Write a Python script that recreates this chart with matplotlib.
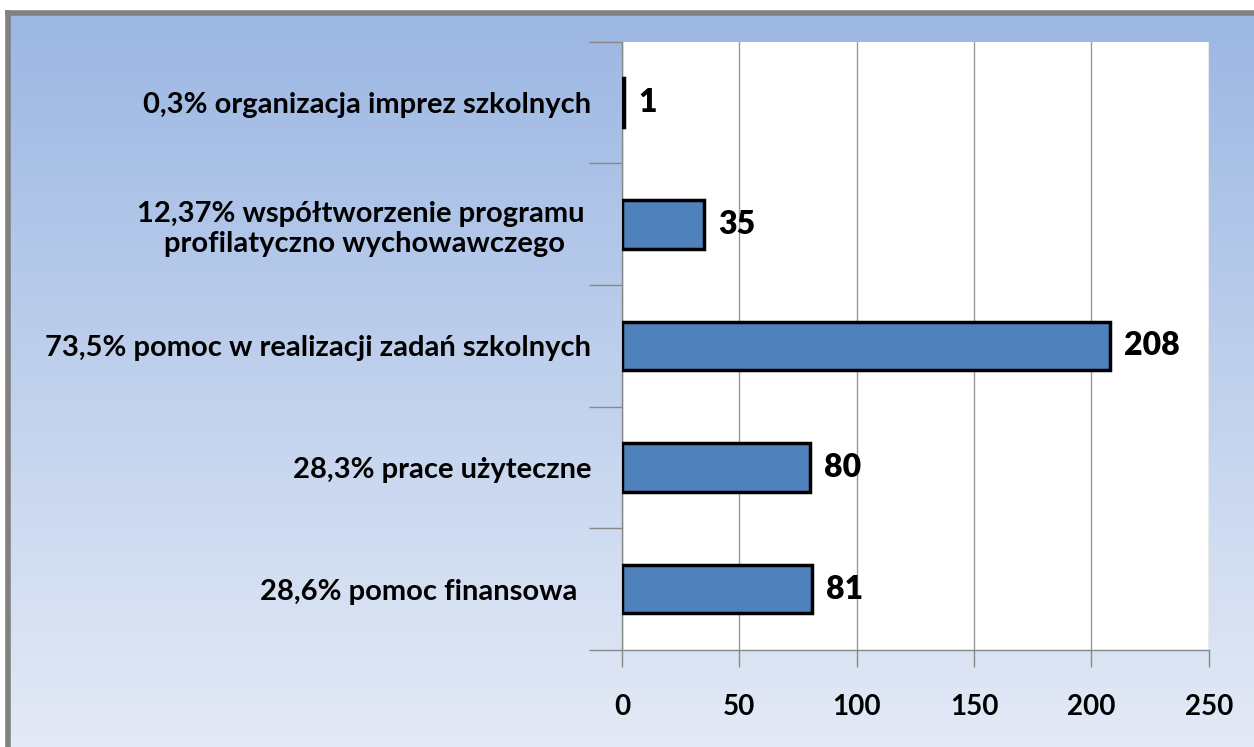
import matplotlib.pyplot as plt
import numpy as np
from matplotlib.colors import LinearSegmentedColormap

categories = [
    "0,3% organizacja imprez szkolnych",
    "12,37% współtworzenie programu \nprofilatyczno wychowawczego",
    "73,5% pomoc w realizacji zadań szkolnych",
    "28,3% prace użyteczne",
    "28,6% pomoc finansowa  ",
]
values = [1, 35, 208, 80, 81]
xticks = [0, 50, 100, 150, 200, 250]

plt.rcParams["font.family"] = ["Lato", "DejaVu Sans"]

fig = plt.figure(figsize=(12.54, 7.47), dpi=100)

# gradient background with grey frame
bg = fig.add_axes([0.006, 0, 0.994, 0.983])
grad = np.linspace(0, 1, 256).reshape(-1, 1)
cmap = LinearSegmentedColormap.from_list("bg", ["#9BB7E3", "#E4EAF6"])
bg.imshow(grad, aspect="auto", cmap=cmap, extent=[0, 1, 0, 1], origin="upper")
bg.set_xlim(0, 1)
bg.set_ylim(0, 1)
bg.set_xticks([])
bg.set_yticks([])
for side in ["right", "bottom"]:
    bg.spines[side].set_visible(False)
for side in ["top", "left"]:
    bg.spines[side].set_color("#808080")
    bg.spines[side].set_linewidth(4)

ax = fig.add_axes([0.496, 0.130, 0.468, 0.814])
ax.set_facecolor("white")
y = np.arange(len(categories))
ax.barh(y, values, height=0.4, color="#4F81BD", edgecolor="black", linewidth=2.5, zorder=3)
ax.set_ylim(len(categories) - 0.5, -0.5)
ax.set_xlim(0, 250)

ax.set_xticks(xticks)
ax.set_xticklabels([str(t) for t in xticks], fontsize=20, fontweight="bold")
ax.set_yticks(np.arange(len(categories) + 1) - 0.5)
ax.set_yticklabels([])
ax.set_yticks(y, minor=True)
ax.set_yticklabels(categories, minor=True, fontsize=21, fontweight="bold",
                   multialignment="center", linespacing=1.2)
ax.tick_params(axis="y", which="minor", length=0, pad=22)
ax.tick_params(axis="y", which="major", length=24, color="#888888", width=1)
ax.tick_params(axis="x", length=12, color="#888888", width=1, pad=20)

ax.grid(axis="x", color="#999999", linewidth=1, zorder=0)
for side in ["top", "right"]:
    ax.spines[side].set_visible(False)
for side in ["left", "bottom"]:
    ax.spines[side].set_color("#888888")
    ax.spines[side].set_linewidth(1)

for yi, v in zip(y, values):
    ax.text(v + 6, yi, str(v), va="center", ha="left", fontsize=23, fontweight="heavy", zorder=4)

fig.savefig("out.png", dpi=100)
